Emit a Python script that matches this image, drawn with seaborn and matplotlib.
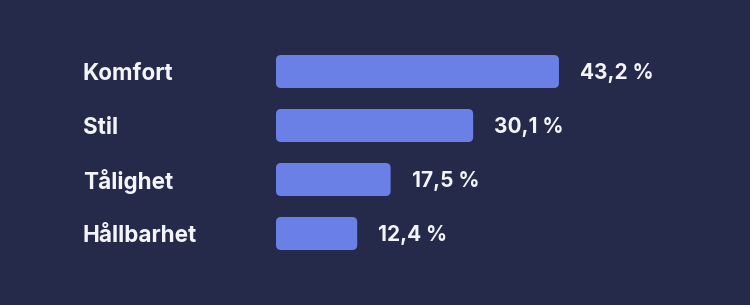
import matplotlib
matplotlib.use("Agg")
import matplotlib.pyplot as plt
import seaborn as sns
import pandas as pd
from matplotlib.patches import FancyBboxPatch

categories = ["Komfort", "Stil", "Tålighet", "Hållbarhet"]
values = [43.2, 30.1, 17.5, 12.4]
value_labels = ["43,2 %", "30,1 %", "17,5 %", "12,4 %"]

BG = "#252a4b"
BAR = "#6b80e6"
TXT = "#f4f5fa"

sns.set_theme(style="white")
plt.rcParams["font.family"] = ["Inter", "DejaVu Sans"]

W, H = 750, 305
fig = plt.figure(figsize=(W / 100, H / 100), dpi=100, facecolor=BG)
ax = fig.add_axes([276 / W, (H - 260.5) / H, (W - 276) / W, 216 / H])
ax.set_facecolor(BG)

df = pd.DataFrame({"cat": categories, "val": values})
sns.barplot(data=df, x="val", y="cat", orient="h", color=BAR, width=33 / 54,
            saturation=1, ax=ax)

pxx = 6.55  # px per unit
ax.set_xlim(0, (W - 276) / pxx)
ax.set_ylim(3.5, -0.5)

# rounded bars
aspect = pxx / 54
for p in list(ax.patches):
    x, y = p.get_x(), p.get_y()
    w, h = p.get_width(), p.get_height()
    p.remove()
    fb = FancyBboxPatch((x, y), w, h,
                        boxstyle="round,pad=0,rounding_size=%f" % (5 / pxx),
                        mutation_aspect=aspect, facecolor=BAR, edgecolor="none")
    ax.add_patch(fb)

FS = 15
for i, (v, lab) in enumerate(zip(values, value_labels)):
    ax.text(v + 21 / pxx, i + 0.02, lab, va="center", ha="left", color=TXT,
            fontsize=FS, fontweight="bold")

ax.set_yticks(range(len(categories)))
ax.set_yticklabels(categories, ha="left", color=TXT, fontsize=16.2, fontweight="bold")
ax.tick_params(axis="y", length=0, pad=(276 - 83) * 0.72)
ax.set_xticks([])
ax.set_xlabel("")
ax.set_ylabel("")
for s in ax.spines.values():
    s.set_visible(False)

fig.savefig("out.png", dpi=100, facecolor=BG)
